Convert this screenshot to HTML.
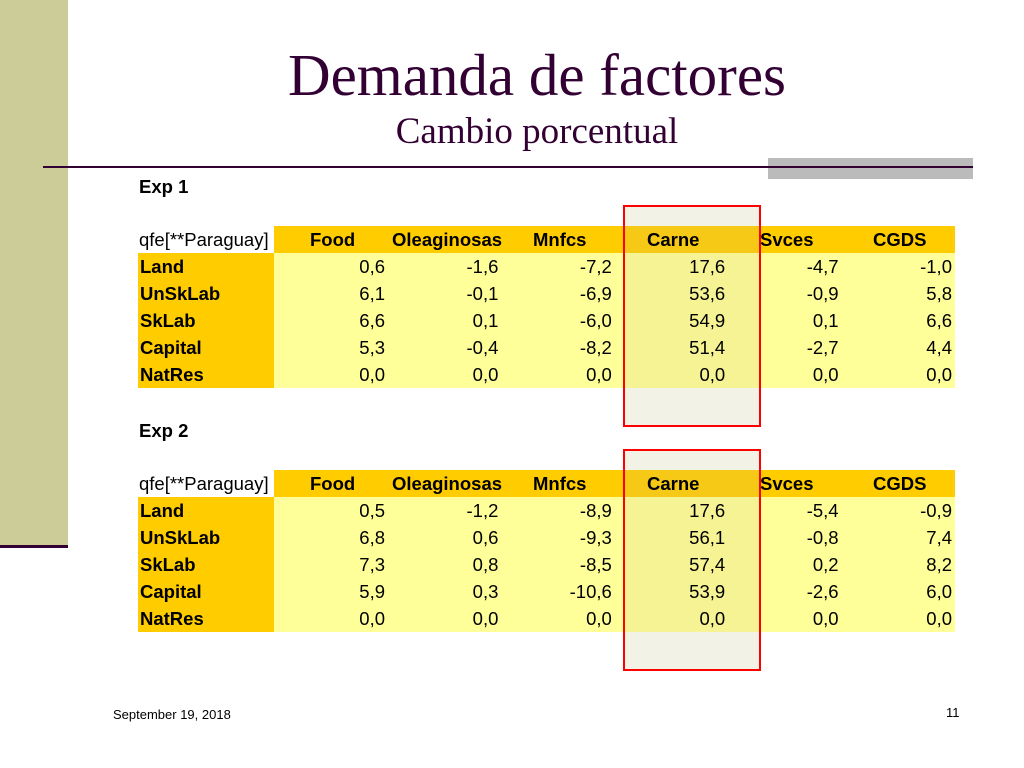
<!DOCTYPE html>
<html><head><meta charset="utf-8"><style>
body{margin:0;width:1024px;height:768px;position:relative;background:#fff;overflow:hidden;font-family:"Liberation Sans Narrow","Liberation Sans",sans-serif}
.a{position:absolute}
.t{font-family:"Liberation Serif",serif;color:#330033;text-align:center;width:1024px;left:25px}
.c{position:absolute;font-size:18.5px;line-height:27px;white-space:nowrap}
.n{text-align:right}
.b{font-weight:bold}
</style></head><body>
<div class="a" style="left:0;top:0;width:68px;height:548px;background:#cccc99"></div>
<div class="a" style="left:0;top:545px;width:68px;height:3px;background:#330033"></div>
<div class="a t" style="top:40px;font-size:59px;line-height:70px">Demanda de factores</div>
<div class="a t" style="top:110px;font-size:37px;line-height:44px">Cambio porcentual</div>
<div class="a" style="left:768px;top:158px;width:205px;height:21px;background:#bbb"></div>
<div class="a" style="left:43px;top:166px;width:930px;height:2px;background:#330033"></div>
<div id="tables"></div>
<div class="a" style="left:113px;top:707px;font-family:'Liberation Sans',sans-serif;font-size:13px">September 19, 2018</div>
<div class="a" style="left:946px;top:705px;font-family:'Liberation Sans',sans-serif;font-size:13px">11</div>
<script>
const columns=["Food","Oleaginosas","Mnfcs","Carne","Svces","CGDS"];
const rowLabels=["Land","UnSkLab","SkLab","Capital","NatRes"];
const exp1=[["0,6","-1,6","-7,2","17,6","-4,7","-1,0"],["6,1","-0,1","-6,9","53,6","-0,9","5,8"],["6,6","0,1","-6,0","54,9","0,1","6,6"],["5,3","-0,4","-8,2","51,4","-2,7","4,4"],["0,0","0,0","0,0","0,0","0,0","0,0"]];
const exp2=[["0,5","-1,2","-8,9","17,6","-5,4","-0,9"],["6,8","0,6","-9,3","56,1","-0,8","7,4"],["7,3","0,8","-8,5","57,4","0,2","8,2"],["5,9","0,3","-10,6","53,9","-2,6","6,0"],["0,0","0,0","0,0","0,0","0,0","0,0"]];
const titles=["Exp 1","Exp 2"];
const hdrX=[310,392,533,647,760,873];
const root=document.getElementById('tables');
function el(parent,style,text,cls){const d=document.createElement('div');d.className=cls||'a';d.style.cssText=style;if(text!==undefined)d.textContent=text;parent.appendChild(d);return d;}
[exp1,exp2].forEach((data,k)=>{
  const top=226+k*244;
  let d;
  d=el(root,`left:623px;top:${top-21}px;width:137px;height:221px;background:#f2f2e6;`);
  
  
  d=el(root,`left:274px;top:${top}px;width:681px;height:27px;background:#ffcc00`);
  
  
  d=el(root,`left:138px;top:${top+27}px;width:136px;height:135px;background:#ffcc00`);
  
  
  d=el(root,`left:274px;top:${top+27}px;width:681px;height:135px;background:#ffff99`);
  
  
  d=el(root,`left:623px;top:${top}px;width:137px;height:162px;background:rgba(200,190,120,0.18)`);
  
  
  d=el(root,`left:139px;top:${top-53}px;`,titles[k],'c b');
  
  
  d=el(root,`left:139px;top:${top}px;`,"qfe[**Paraguay]",'c');
  
  
  columns.forEach((c,j)=>{
    const h=el(root,`left:${hdrX[j]}px;top:${top}px;`,c,'c b');
    
    
  });
  rowLabels.forEach((r,i)=>{
    const y=top+27*(i+1);
    const l=el(root,`left:140px;top:${y}px;`,r,'c b');
    
    
    data[i].forEach((v,j)=>{
      const right=385+113.4*j;
      const c=el(root,`left:${right-100}px;width:100px;top:${y}px;`,v,'c n');
      
      
    });
  });
  d=el(root,`left:623px;top:${top-21}px;width:134px;height:218px;border:2px solid #ff0000;`);
  
  
});
</script>
</body></html>
